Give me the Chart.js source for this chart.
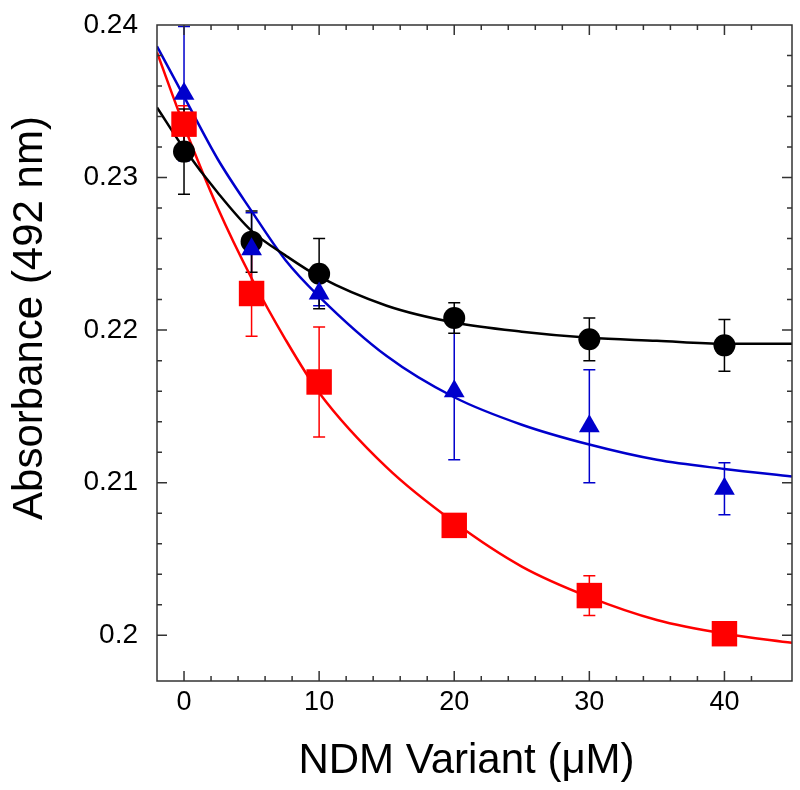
<!DOCTYPE html>
<html>
<head>
<meta charset="utf-8">
<title>Absorbance vs NDM variant</title>
<script src="https://cdn.jsdelivr.net/npm/chart.js@4"></script>
<style>
  html, body { margin: 0; padding: 0; background: #fff; }
  #wrap { width: 800px; height: 790px; }
</style>
</head>
<body>
<div id="wrap"><canvas id="absChart" width="800" height="790"></canvas></div>
<script>
// Measured points: absorbance (492 nm) at each NDM concentration (uM)
const conc = [0, 5, 10, 20, 30, 40];

const blackAbs = [0.2317, 0.2258, 0.2237, 0.2208, 0.2194, 0.2190];
const blackErr = [0.0028, 0.0020, 0.0023, 0.0010, 0.0014, 0.0017];

const blueAbs = [0.2355, 0.2253, 0.2224, 0.2160, 0.2137, 0.2096];
const blueErr = [0.0044, 0.0024, 0.0008, 0.0045, 0.0037, 0.0017];

const redAbs = [0.2335, 0.2224, 0.2166, 0.2072, 0.2026, 0.2001];
const redErr = [0.0012, 0.0028, 0.0036, 0.0005, 0.0013, 0.0005];

// Fitted curves
const fitConc = [-2, 0, 2.5, 5, 7.5, 10, 15, 20, 25, 30, 35, 40, 45];
const blackFit = [0.2346, 0.2319, 0.2290, 0.2265, 0.2249, 0.2235, 0.2216, 0.2205, 0.2199, 0.2195, 0.2193, 0.2191, 0.2191];
const blueFit = [0.2386, 0.2353, 0.2312, 0.2278, 0.2246, 0.2222, 0.2183, 0.2156, 0.2138, 0.2125, 0.2115, 0.2109, 0.2104];
const redFit = [0.2382, 0.2334, 0.2280, 0.2234, 0.2194, 0.2159, 0.2110, 0.2074, 0.2045, 0.2025, 0.2010, 0.2001, 0.1995];

const xTitle = 'NDM Variant (\u03bcM)';
const yTitle = 'Absorbance (492 nm)';

const FONT = "'Liberation Sans', Arial, Helvetica, sans-serif";
const BLACK = '#000000';
const BLUE = '#0000cc';
const RED = '#ff0000';

function pts(xs, ys) {
    return xs.map((x, i) => ({ x: x, y: ys[i] }));
}

function isStep(v, step) {
    return Math.abs(v / step - Math.round(v / step)) < 1e-6;
}

/**
 * Vertical error bars with caps, drawn under the markers
 */
const errorBars = {
    id: 'errorBars',
    beforeDatasetsDraw(chart) {
        const { ctx, scales: { x, y } } = chart;
        chart.data.datasets.forEach(ds => {
            if (!ds.errors) return;
            ctx.save();
            ctx.strokeStyle = ds.backgroundColor;
            ctx.lineWidth = 1.5;
            ctx.beginPath();
            ds.data.forEach((p, i) => {
                const px = x.getPixelForValue(p.x);
                const top = y.getPixelForValue(p.y + ds.errors[i]);
                const bot = y.getPixelForValue(p.y - ds.errors[i]);
                ctx.moveTo(px, top); ctx.lineTo(px, bot);
                ctx.moveTo(px - 6, top); ctx.lineTo(px + 6, top);
                ctx.moveTo(px - 6, bot); ctx.lineTo(px + 6, bot);
            });
            ctx.stroke();
            ctx.restore();
        });
    }
};

/**
 * Box frame, inward ticks on all four sides, axis titles
 */
const frameAndTitles = {
    id: 'frameAndTitles',
    afterDraw(chart) {
        const { ctx, chartArea: a, scales: { x, y } } = chart;
        ctx.save();
        ctx.strokeStyle = '#333333';
        ctx.lineWidth = 1.5;
        ctx.strokeRect(a.left, a.top, a.right - a.left, a.bottom - a.top);

        ctx.beginPath();
        x.ticks.forEach(t => {
            const v = t.value;
            if (!isStep(v, 2) || v <= x.min || v >= x.max) return;
            const len = isStep(v, 10) ? 10 : 5;
            const px = x.getPixelForValue(v);
            ctx.moveTo(px, a.bottom); ctx.lineTo(px, a.bottom - len);
            ctx.moveTo(px, a.top); ctx.lineTo(px, a.top + len);
        });
        y.ticks.forEach(t => {
            const v = t.value;
            if (!isStep(v, 0.002) || v <= y.min + 1e-9 || v >= y.max - 1e-9) return;
            const len = isStep(v, 0.01) ? 10 : 5;
            const py = y.getPixelForValue(v);
            ctx.moveTo(a.left, py); ctx.lineTo(a.left + len, py);
            ctx.moveTo(a.right, py); ctx.lineTo(a.right - len, py);
        });
        ctx.stroke();

        ctx.fillStyle = '#000';
        ctx.font = '42px ' + FONT;
        ctx.textAlign = 'center';
        ctx.textBaseline = 'alphabetic';
        ctx.fillText(xTitle, (a.left + a.right) / 2 - 8, 773);

        ctx.translate(42, 318);
        ctx.rotate(-Math.PI / 2);
        ctx.fillText(yTitle, 0, 0);
        ctx.restore();
    }
};

const ctx = document.getElementById('absChart').getContext('2d');
new Chart(ctx, {
    type: 'scatter',
    data: {
        datasets: [
            {
                label: 'blue points', data: pts(conc, blueAbs), errors: blueErr,
                pointStyle: 'triangle', pointRadius: 12, pointHoverRadius: 12,
                backgroundColor: BLUE, borderColor: BLUE, borderWidth: 0
            },
            {
                label: 'red points', data: pts(conc, redAbs), errors: redErr,
                pointStyle: 'rect', pointRadius: 18, pointHoverRadius: 18,
                backgroundColor: RED, borderColor: RED, borderWidth: 0
            },
            {
                label: 'black points', data: pts(conc, blackAbs), errors: blackErr,
                pointStyle: 'circle', pointRadius: 11, pointHoverRadius: 11,
                backgroundColor: BLACK, borderColor: BLACK, borderWidth: 0
            },
            {
                label: 'black fit', data: pts(fitConc, blackFit), showLine: true,
                pointRadius: 0, borderColor: BLACK, borderWidth: 2.5,
                cubicInterpolationMode: 'monotone'
            },
            {
                label: 'blue fit', data: pts(fitConc, blueFit), showLine: true,
                pointRadius: 0, borderColor: BLUE, borderWidth: 2.5,
                cubicInterpolationMode: 'monotone'
            },
            {
                label: 'red fit', data: pts(fitConc, redFit), showLine: true,
                pointRadius: 0, borderColor: RED, borderWidth: 2.5,
                cubicInterpolationMode: 'monotone'
            }
        ]
    },
    options: {
        responsive: false,
        animation: false,
        layout: {
            autoPadding: false, // big markers would otherwise shrink the plot box
            padding: { top: 25, right: 8, left: 0, bottom: 0 }
        },
        plugins: {
            legend: { display: false },
            tooltip: { enabled: false }
        },
        scales: {
            x: {
                type: 'linear',
                min: -2,
                max: 45,
                grid: { display: false, drawTicks: false, tickLength: 0 },
                border: { display: false },
                ticks: {
                    stepSize: 2,
                    autoSkip: false,
                    maxRotation: 0,
                    padding: 5,
                    color: '#000',
                    font: { family: FONT, size: 27 },
                    callback: v => isStep(v, 10) ? String(v) : ''
                },
                afterFit: s => {
                    s.height = 109;
                    s.paddingLeft = 0;
                    s.paddingRight = 0;
                }
            },
            y: {
                type: 'linear',
                min: 0.197,
                max: 0.24,
                grid: { display: false, drawTicks: false, tickLength: 0 },
                border: { display: false },
                ticks: {
                    stepSize: 0.002,
                    autoSkip: false,
                    padding: 19,
                    color: '#000',
                    font: { family: FONT, size: 28 },
                    callback: v => isStep(v, 0.01) ? String(Math.round(v * 100) / 100) : ''
                },
                afterFit: s => {
                    s.width = 157;
                    s.paddingTop = 0;
                    s.paddingBottom = 0;
                }
            }
        }
    },
    plugins: [errorBars, frameAndTitles]
});
</script>
</body>
</html>
